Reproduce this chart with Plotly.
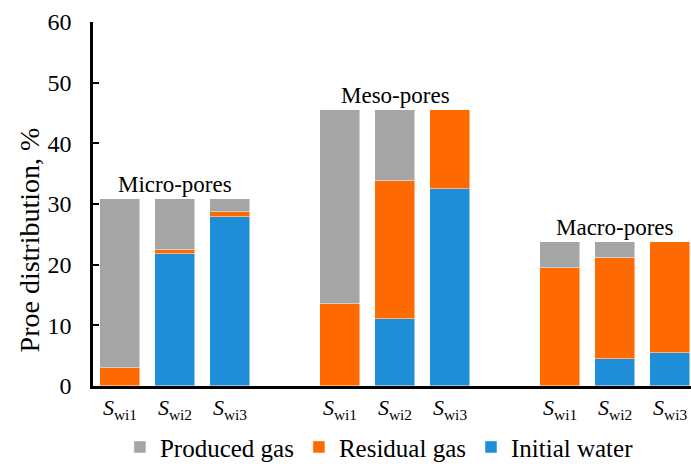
import plotly.graph_objects as go

groups = ["Micro-pores", "Meso-pores", "Macro-pores"]
samples = ["wi1", "wi2", "wi3"]

initial_water = [0.0, 21.8, 27.9, 0.0, 11.0, 32.5, 0.0, 4.45, 5.5]
residual_gas = [3.0, 0.6, 0.8, 13.5, 22.8, 13.0, 19.5, 16.65, 18.3]
produced_gas = [27.8, 8.4, 2.1, 32.0, 11.7, 0.0, 4.3, 2.7, 0.0]

group_tops = [30.8, 45.5, 23.8]
y_title = "Proe distribution, %"

# category positions: each group gets 3 slots plus one empty spacer slot
xpos = [g * 4 + s for g in range(len(groups)) for s in range(len(samples))]
ticktext = ["<i>S</i><sub>%s</sub>" % s for g in groups for s in samples]

colors = {"Produced gas": "#A5A5A5", "Residual gas": "#FF6A00", "Initial water": "#1F8ED8"}
font_family = "Liberation Serif"

fig = go.Figure()
for name, vals in [("Initial water", initial_water), ("Residual gas", residual_gas), ("Produced gas", produced_gas)]:
    fig.add_trace(go.Bar(
        x=xpos, y=vals, name=name, width=0.73,
        marker=dict(color=colors[name], line=dict(color="rgba(255,255,255,0.6)", width=0.8)),
    ))

for g, name in enumerate(groups):
    fig.add_annotation(x=g * 4 + 1, y=group_tops[g], text=name, showarrow=False,
                       yanchor="bottom", yshift=0, font=dict(size=23, color="black", family=font_family))

fig.add_annotation(xref="paper", yref="paper", x=-0.107, y=0.40, text=y_title, textangle=-90,
                   showarrow=False, xanchor="center", yanchor="middle",
                   font=dict(size=28, color="black", family=font_family))

fig.update_layout(
    barmode="stack",
    width=691, height=464,
    margin=dict(l=93, r=0, t=22, b=78, autoexpand=False),
    plot_bgcolor="white", paper_bgcolor="white",
    font=dict(family=font_family, size=22, color="black"),
    legend=dict(orientation="h", traceorder="reversed", x=0.045, xanchor="left", y=-0.168, yanchor="middle",
                font=dict(size=25, family=font_family), itemwidth=30, tracegroupgap=0),
    bargap=0,
    xaxis=dict(
        range=[-0.49, 10.38], tickmode="array", tickvals=xpos, ticktext=ticktext,
        showgrid=False, showline=True, linecolor="black", linewidth=2.5, ticks="",
        tickfont=dict(size=22, family=font_family), zeroline=False,
    ),
    yaxis=dict(
        range=[0, 60], dtick=10, showgrid=False, showline=True, linecolor="black", linewidth=2.5,
        ticks="inside", ticklen=6, tickwidth=2, tickcolor="black", zeroline=False,
        ticklabelstandoff=14,
        tickfont=dict(size=24, family=font_family),
    ),
)

fig.write_html("out.html", config={"displayModeBar": False},
               post_script="document.body.style.margin='0';")
